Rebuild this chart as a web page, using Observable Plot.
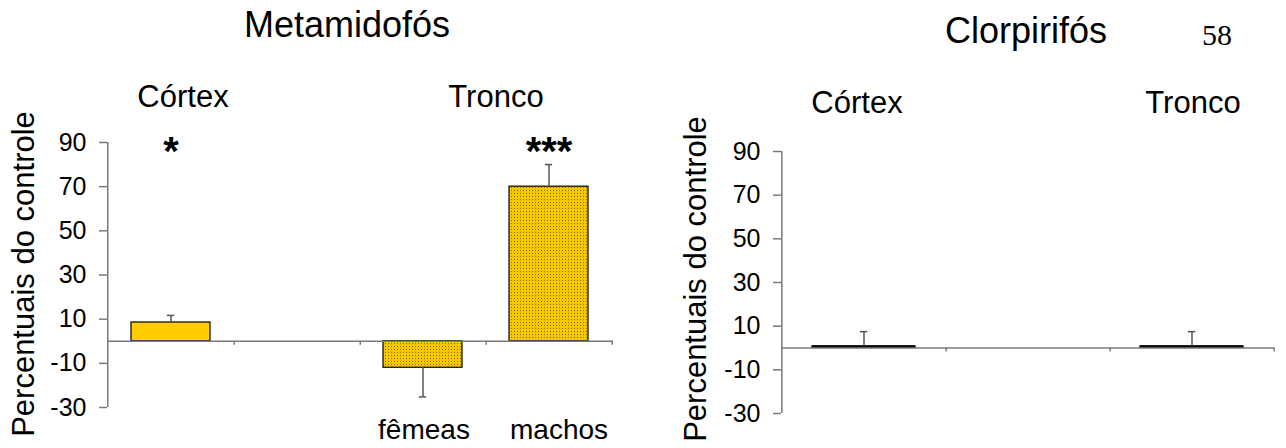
<!DOCTYPE html>
<html><head><meta charset="utf-8">
<script src="https://cdn.jsdelivr.net/npm/d3@7"></script>
<script src="https://cdn.jsdelivr.net/npm/@observablehq/plot@0.6"></script>
<style>
body{margin:0;background:#fff;}
#wrap{position:relative;width:1286px;height:448px;overflow:hidden;font-family:"Liberation Sans",Arial,sans-serif;color:#000;}
.t{position:absolute;white-space:nowrap;line-height:1;}
.chart{position:absolute;top:0;}
</style></head><body><div id="wrap"></div>
<script>
// ---- shared ----
const yTicks = [90, 70, 50, 30, 10, -10, -30];
const yLabel = "Percentuais do controle";
const groupLabels = ["Córtex", "Tronco"];
const pageNumber = "58";

// ---- Metamidofós ----
const metTitle = "Metamidofós";
const metCategories = ["cortex", "vazio", "femeas", "machos"];
const metTickLabels = ["", "", "fêmeas", "machos"];
const metValues = [8.5, null, -12, 70];
const metErrors = [11.7, null, -25.2, 80];
const metPatterned = [false, false, true, true];
const metStars = ["*", "", "", "***"];

// ---- Clorpirifós ----
const cloTitle = "Clorpirifós";
const cloCategories = ["cortex", "vazio", "tronco"];
const cloValues = [0.8, null, 0.8];
const cloErrors = [7.5, null, 7.5];

const FONT = "Liberation Sans, Arial, sans-serif";
const AXIS = "#7a7a7a";

function rowsOf(cats, vals, errs, pat) {
  return cats.map((c, i) => ({cat: c, value: vals[i], err: errs[i], pattern: pat ? pat[i] : false}))
             .filter(d => d.value != null);
}

function makeChart({categories, tickLabels, rows, stars, width, height, mL, mR, mT, mB, solidFill}) {
  const step = (width - mL - mR) / categories.length;
  const bw = step * 0.63;
  const capHalf = 4;
  const labelMap = Object.fromEntries(categories.map((c, i) => [c, tickLabels ? tickLabels[i] : ""]));
  const marks = [
    Plot.ruleX(categories.slice(0, 1), {x: d => d, dx: -step / 2, stroke: AXIS, strokeWidth: 1.5}),
    Plot.axisY({ticks: yTicks, tickSize: 8, tickPadding: 13, fontSize: 25, stroke: AXIS, strokeWidth: 1.5, fill: "black", label: null, tickFormat: d => String(d)}),
    Plot.barY(rows.filter(d => !d.pattern), {x: "cat", y: "value", fill: solidFill, stroke: "black", strokeWidth: 1.2}),
    Plot.barY(rows.filter(d => d.pattern), {x: "cat", y: "value", fill: "url(#dots)", stroke: "black", strokeWidth: 1.2}),
    Plot.ruleX(rows, {x: "cat", y1: "value", y2: "err", stroke: "#555", strokeWidth: 1.5}),
    Plot.tickY(rows, {x: "cat", y: "err", stroke: "#555", strokeWidth: 1.5, insetLeft: bw / 2 - capHalf, insetRight: bw / 2 - capHalf}),
    Plot.ruleY([0], {stroke: AXIS, strokeWidth: 1.5}),
    Plot.ruleX(categories, {x: d => d, y1: 0, y2: 0, insetBottom: -4, dx: step / 2, stroke: AXIS, strokeWidth: 1.5})
  ];
  if (tickLabels) {
    const labelled = categories.filter(c => labelMap[c]);
    labelled.forEach((c, i) => {
      marks.push(Plot.axisX({ticks: [c], tickSize: 0, tickPadding: 12, fontSize: 28, fill: "black", label: null,
        tickFormat: d => labelMap[d], dx: i === labelled.length - 1 ? 10 : 1}));
    });
  }
  if (stars) marks.push(Plot.text(categories.map((c, i) => ({cat: c, s: stars[i]})).filter(d => d.s),
    {x: "cat", text: "s", frameAnchor: "top", lineAnchor: "top", fontSize: 40, fontWeight: "bold", dy: -6}));
  const svg = Plot.plot({
    width, height, marginLeft: mL, marginRight: mR, marginTop: mT, marginBottom: mB,
    style: {fontFamily: FONT, fontSize: "25px", background: "transparent", overflow: "visible", color: "black"},
    x: {domain: categories, paddingInner: 0.37, paddingOuter: 0.185, axis: null},
    y: {domain: [-30, 90], axis: null},
    marks
  });
  d3.select(svg).insert("defs", ":first-child").html(
    '<pattern id="dots" width="3" height="3" patternUnits="userSpaceOnUse">' +
    '<rect width="3" height="3" fill="#F4C700"></rect><rect x="1" y="1" width="1" height="1" fill="#8a6d00"></rect></pattern>');
  return svg;
}

const wrap = document.getElementById("wrap");

const left = makeChart({
  categories: metCategories, tickLabels: metTickLabels,
  rows: rowsOf(metCategories, metValues, metErrors, metPatterned), stars: metStars,
  width: 640, height: 448, mL: 107, mR: 27, mT: 142, mB: 41, solidFill: "#FFCC00"
});
left.classList.add("chart"); left.style.left = "0px";
wrap.appendChild(left);

const right = makeChart({
  categories: cloCategories, tickLabels: null,
  rows: rowsOf(cloCategories, cloValues, cloErrors, null), stars: null,
  width: 646, height: 448, mL: 141, mR: 12, mT: 151, mB: 35, solidFill: "#111"
});
right.classList.add("chart"); right.style.left = "640px";
wrap.appendChild(right);

function addText(text, cx, baseline, fs, opts = {}) {
  const d = document.createElement("div");
  d.className = "t";
  d.textContent = text;
  const asc = opts.serif ? 0.8375 : 0.8465;
  d.style.fontSize = fs + "px";
  if (opts.serif) d.style.fontFamily = "Liberation Serif, Times New Roman, serif";
  if (opts.rotate) {
    d.style.left = (baseline - (asc - 0.5) * fs) + "px";
    d.style.top = cx + "px";
    d.style.transform = "translate(-50%,-50%) rotate(-90deg)";
  } else {
    d.style.left = cx + "px";
    d.style.top = (baseline - asc * fs) + "px";
    d.style.transform = "translateX(-50%)";
  }
  wrap.appendChild(d);
}

addText(metTitle, 347, 37, 36);
addText(cloTitle, 1026, 43, 36);
addText(pageNumber, 1217, 45, 30, {serif: true});
addText(groupLabels[0], 183, 107, 31);
addText(groupLabels[1], 496, 107, 31);
addText(groupLabels[0], 857, 113, 31);
addText(groupLabels[1], 1193, 113, 31);
addText(yLabel, 274, 34, 31, {rotate: true});
addText(yLabel, 279, 706, 31, {rotate: true});
</script>
</body></html>
